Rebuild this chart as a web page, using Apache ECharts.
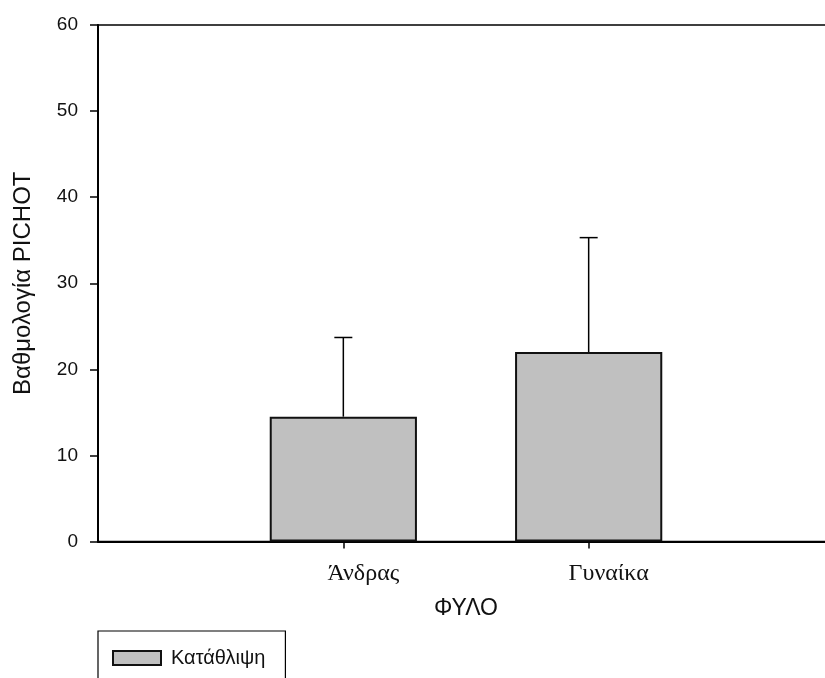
<!DOCTYPE html>
<html>
<head>
<meta charset="utf-8">
<script src="https://cdn.jsdelivr.net/npm/echarts@6/dist/echarts.min.js"></script>
<style>
html,body{margin:0;padding:0;background:#fff;}
#chart{width:825px;height:678px;}
</style>
</head>
<body>
<div id="chart"></div>
<script>
// Data
var categories = ['', 'Άνδρας', 'Γυναίκα', ''];
var meanValues = ['-', 14.5, 22.0, '-'];
var upperValues = [null, 23.7, 35.3, null];
var seriesName = 'Κατάθλιψη';
var yTicks = [0, 10, 20, 30, 40, 50, 60];

var errData = [];
for (var i = 0; i < categories.length; i++) {
  if (upperValues[i] != null) errData.push([i, meanValues[i], upperValues[i]]);
}

var chart = echarts.init(document.getElementById('chart'));
chart.setOption({
  animation: false,
  backgroundColor: '#fff',
  grid: {
    left: 98, width: 736, top: 25, height: 516.5,
    outerBoundsMode: 'none',
    containLabel: false,
    show: true, borderColor: '#000', borderWidth: 1.5, backgroundColor: 'transparent'
  },
  legend: {
    data: [seriesName],
    left: 98, top: 631,
    orient: 'vertical',
    icon: 'rect',
    itemWidth: 48, itemHeight: 14,
    padding: [17, 20, 40, 14],
    borderColor: '#000', borderWidth: 1.2,
    textStyle: { fontFamily: 'Liberation Sans', fontSize: 20, color: '#111', padding: [0, 0, 0, 5] }
  },
  xAxis: {
    type: 'category',
    data: categories,
    boundaryGap: false,
    name: 'ΦΥΛΟ',
    nameLocation: 'middle',
    nameGap: 56,
    nameTextStyle: { fontFamily: 'Liberation Sans', fontSize: 23, color: '#111' },
    axisLine: { lineStyle: { color: '#000', width: 2 } },
    axisTick: {
      length: 7, lineStyle: { color: '#000', width: 1.5 },
      interval: function (idx, val) { return val !== ''; }
    },
    axisLabel: {
      margin: 20,
      interval: 0,
      fontFamily: 'Liberation Serif', fontSize: 24, color: '#111',
      padding: [0, 0, 0, 40]
    },
    splitLine: { show: false }
  },
  yAxis: {
    type: 'value',
    min: 0, max: 60, interval: 10,
    name: 'Βαθμολογία PICHOT',
    nameLocation: 'middle',
    nameGap: 63,
    nameTextStyle: { fontFamily: 'Liberation Sans', fontSize: 24, color: '#111' },
    axisLine: { show: true, lineStyle: { color: '#000', width: 2 } },
    axisTick: { show: true, length: 8, lineStyle: { color: '#000', width: 1.5 } },
    axisLabel: { margin: 20, fontFamily: 'Liberation Sans', fontSize: 19, color: '#111' },
    splitLine: { show: false }
  },
  series: [
    {
      name: seriesName,
      type: 'bar',
      data: meanValues,
      barWidth: '60%',
      itemStyle: { color: '#c0c0c0', borderColor: '#111', borderWidth: 2 }
    },
    {
      type: 'custom',
      silent: true,
      data: errData,
      z: 3,
      renderItem: function (params, api) {
        var x = api.value(0);
        var lo = api.coord([x, api.value(1)]);
        var hi = api.coord([x, api.value(2)]);
        var cap = 9;
        return {
          type: 'group',
          children: [
            { type: 'line', shape: { x1: lo[0], y1: lo[1], x2: hi[0], y2: hi[1] }, style: { stroke: '#000', lineWidth: 1.5 } },
            { type: 'line', shape: { x1: hi[0] - cap, y1: hi[1], x2: hi[0] + cap, y2: hi[1] }, style: { stroke: '#000', lineWidth: 1.5 } }
          ]
        };
      }
    }
  ]
});
</script>
</body>
</html>
